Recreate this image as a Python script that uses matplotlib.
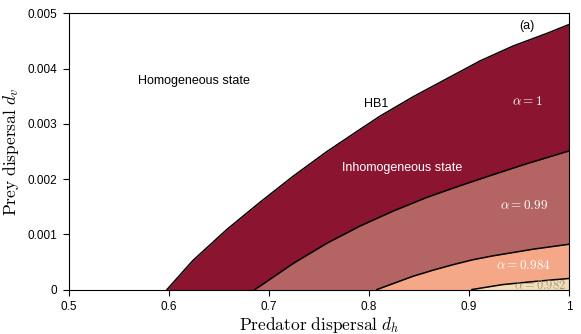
import matplotlib
matplotlib.use("Agg")
import matplotlib.pyplot as plt

plt.rcParams['font.family'] = ['Liberation Sans', 'DejaVu Sans']
plt.rcParams['mathtext.fontset'] = 'cm'

# boundary curves (dh, dv)
hb1_dh = [0.598, 0.624, 0.658, 0.691, 0.724, 0.758, 0.791, 0.811, 0.844, 0.878, 0.911, 0.944, 0.978, 1.0]
hb1_dv = [0, 0.527e-3, 1.09e-3, 1.58e-3, 2.05e-3, 2.50e-3, 2.90e-3, 3.14e-3, 3.49e-3, 3.82e-3, 4.14e-3, 4.41e-3, 4.64e-3, 4.80e-3]

a099_dh = [0.686, 0.724, 0.758, 0.791, 0.824, 0.858, 0.891, 0.924, 0.958, 1.0]
a099_dv = [0, 0.47e-3, 0.84e-3, 1.15e-3, 1.42e-3, 1.67e-3, 1.88e-3, 2.08e-3, 2.28e-3, 2.51e-3]

a0984_dh = [0.808, 0.826, 0.844, 0.864, 0.884, 0.904, 0.924, 0.944, 0.964, 0.984, 1.0]
a0984_dv = [0, 0.12e-3, 0.24e-3, 0.35e-3, 0.45e-3, 0.54e-3, 0.61e-3, 0.67e-3, 0.73e-3, 0.78e-3, 0.82e-3]

a0982_dh = [0.903, 0.934, 0.968, 1.0]
a0982_dv = [0, 0.09e-3, 0.15e-3, 0.20e-3]

xticks = [0.5, 0.6, 0.7, 0.8, 0.9, 1.0]
xticklabels = ['0.5', '0.6', '0.7', '0.8', '0.9', '1']
yticks = [0, 0.001, 0.002, 0.003, 0.004, 0.005]
yticklabels = ['0', '0.001', '0.002', '0.003', '0.004', '0.005']

curves = [(hb1_dh, hb1_dv, '#8b1430'),
          (a099_dh, a099_dv, '#b56464'),
          (a0984_dh, a0984_dv, '#f5a888'),
          (a0982_dh, a0982_dv, '#f3dfb3')]

fig = plt.figure(figsize=(5.81, 3.34), dpi=100)
ax = fig.add_axes([0.1188, 0.1332, 0.8605, 0.8264])

for x, y, c in curves:
    ax.fill_between(x, 0, y, color=c, lw=0)
for x, y, c in curves:
    ax.plot(x, y, color='black', lw=1.1, solid_joinstyle='round')

ax.set_xlim(0.5, 1.0)
ax.set_ylim(0, 0.005)
ax.set_xticks(xticks)
ax.set_xticklabels(xticklabels)
ax.set_yticks(yticks)
ax.set_yticklabels(yticklabels)
ax.tick_params(direction='out', labelsize=8.5, length=4, width=0.8, pad=4.5, top=False, right=False)
for s in ax.spines.values():
    s.set_linewidth(0.8)

ax.set_xlabel(r'$\mathrm{Predator\ dispersal}\ d_h$', fontsize=12.5, labelpad=1)
ax.set_ylabel(r'$\mathrm{Prey\ dispersal}\ d_v$', fontsize=12.5, labelpad=5)

ax.text(0.625, 0.00377, 'Homogeneous state', fontsize=9, ha='center', va='center')
ax.text(0.807, 0.00336, 'HB1', fontsize=9, ha='center', va='center')
ax.text(0.833, 0.00221, 'Inhomogeneous state', fontsize=9, ha='center', va='center', color='white')
ax.text(0.958, 0.0034, r'$\alpha = 1$', fontsize=9.5, ha='center', va='center', color='white')
ax.text(0.955, 0.00152, r'$\alpha = 0.99$', fontsize=9.5, ha='center', va='center', color='white')
ax.text(0.955, 0.00043, r'$\alpha = 0.984$', fontsize=9.5, ha='center', va='center', color='white')
ax.text(0.971, 0.00008, r'$\alpha = 0.982$', fontsize=9, ha='center', va='center', color='#a09a8a',
        clip_on=True)
ax.text(0.958, 0.00477, '(a)', fontsize=9, ha='center', va='center')

fig.savefig('out.png', dpi=100)
